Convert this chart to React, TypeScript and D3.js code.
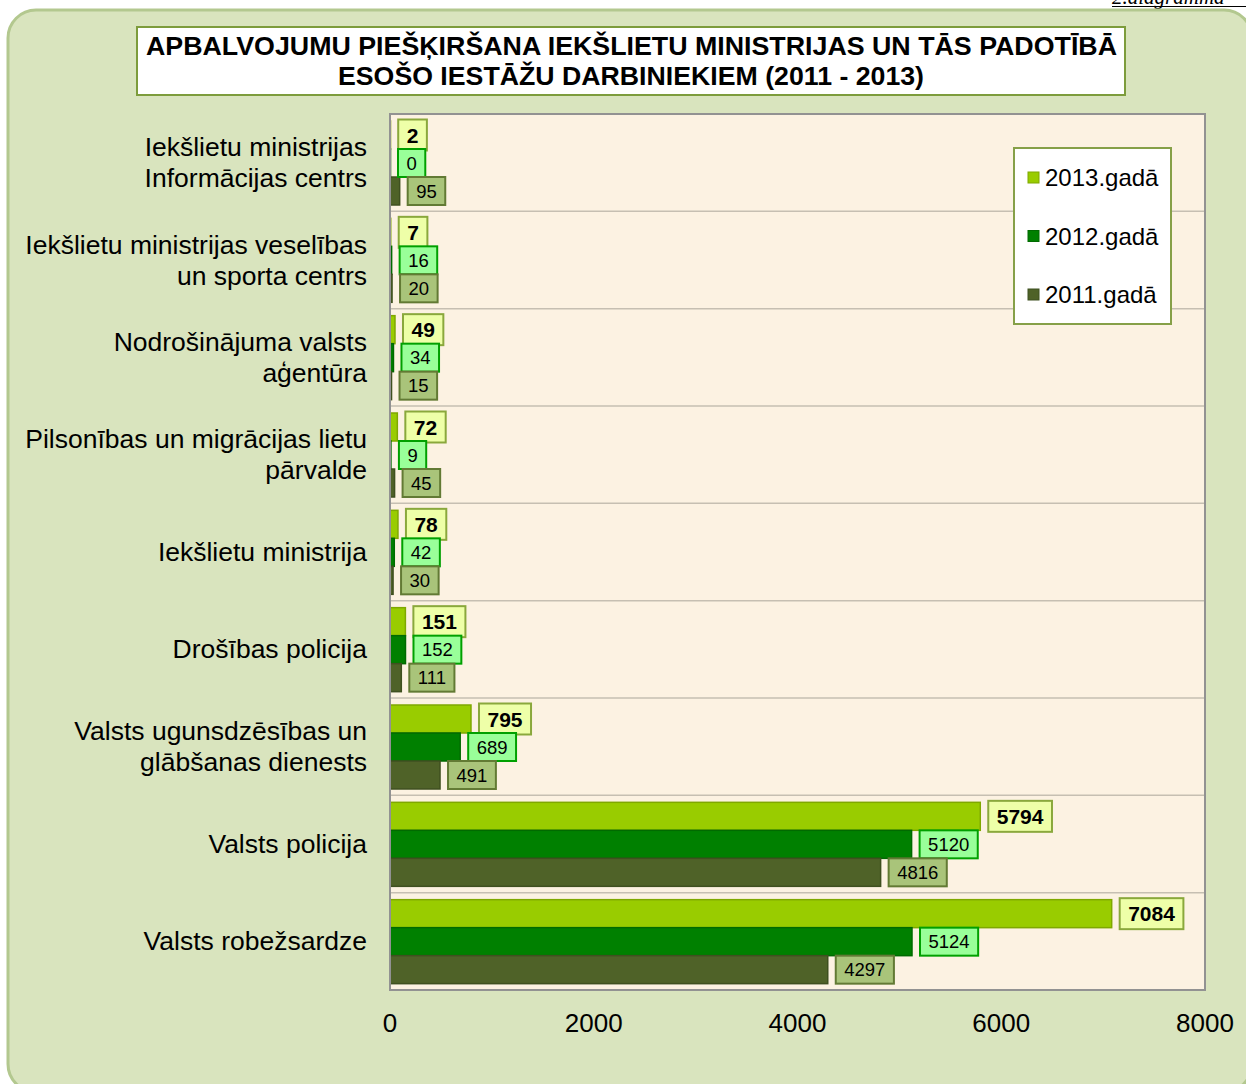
import * as d3 from 'd3';

const categories = [
  ['Iekšlietu ministrijas', 'Informācijas centrs'],
  ['Iekšlietu ministrijas veselības', 'un sporta centrs'],
  ['Nodrošinājuma valsts', 'aģentūra'],
  ['Pilsonības un migrācijas lietu', 'pārvalde'],
  ['Iekšlietu ministrija'],
  ['Drošības policija'],
  ['Valsts ugunsdzēsības un', 'glābšanas dienests'],
  ['Valsts policija'],
  ['Valsts robežsardze'],
];
const years = ['2013.gadā', '2012.gadā', '2011.gadā'];
const values2013 = [2, 7, 49, 72, 78, 151, 795, 5794, 7084];
const values2012 = [0, 16, 34, 9, 42, 152, 689, 5120, 5124];
const values2011 = [95, 20, 15, 45, 30, 111, 491, 4816, 4297];
const xTicks = [0, 2000, 4000, 6000, 8000];

const series = [values2013, values2012, values2011];
const barFill = ['#99cc00', '#008000', '#4f6228'];
const barStroke = ['#7fa800', '#006a00', '#3f5020'];
const boxFill = ['#eeffa8', '#99ff99', '#a9c47a'];
const boxStroke = ['#8aa83c', '#00a000', '#627a34'];

const FONT = '"Liberation Sans", Arial, sans-serif';

let ctx: CanvasRenderingContext2D | null = null;
function textWidth(t: string, font: string) {
  if (!ctx) ctx = document.createElement('canvas').getContext('2d');
  if (!ctx) return t.length * 10;
  ctx.font = font;
  return ctx.measureText(t).width;
}

export default function App() {
  const W = 1246, H = 1084;
  const left = 390, right = 1205, top = 114, bottom = 990;

  const x = d3.scaleLinear().domain([0, 8000]).range([left, right]);
  const y = d3.scaleBand<number>().domain(d3.range(categories.length)).range([top, bottom]);
  const inner = d3.scaleBand<number>().domain([0, 1, 2]).range([7, 91]);

  return (
    <svg width={W} height={H} style={{ position: 'absolute', left: 0, top: 0, display: 'block' }} fontFamily={FONT}>
      <text x={1112} y={4} fontFamily="'Liberation Serif', 'Times New Roman', serif" fontStyle="italic" fontSize={21}>2.diagramma</text>
      <line x1={1112} x2={1246} y1={6.5} y2={6.5} stroke="#000" strokeWidth={1.2} />

      <rect x={8} y={10} width={1244} height={1082} rx={28} fill="#d9e4be" stroke="#b3c88f" strokeWidth={3} />

      <rect x={137} y={27} width={988} height={68} fill="#fff" stroke="#7d9c3c" strokeWidth={2} />
      <text x={146} y={55} fontSize={26} fontWeight="bold" textLength={971} lengthAdjust="spacingAndGlyphs">APBALVOJUMU PIEŠĶIRŠANA IEKŠLIETU MINISTRIJAS UN TĀS PADOTĪBĀ</text>
      <text x={338} y={85} fontSize={26} fontWeight="bold" textLength={586} lengthAdjust="spacingAndGlyphs">ESOŠO IESTĀŽU DARBINIEKIEM (2011 - 2013)</text>

      <rect x={left} y={top} width={right - left} height={bottom - top} fill="#fcf2e2" />
      {d3.range(1, categories.length).map(i => (
        <line key={i} x1={left} x2={right} y1={y(i)!} y2={y(i)!} stroke="#c6bfb2" strokeWidth={1.5} />
      ))}

      {categories.map((lines, i) => {
        const cy = y(i)! + y.bandwidth() / 2;
        const off = (lines.length - 1) * 15.5;
        return (
          <text key={i} textAnchor="end" fontSize={26.5} fill="#000">
            {lines.map((l, j) => (
              <tspan key={j} x={367} y={cy - off + j * 31 + 9}>{l}</tspan>
            ))}
          </text>
        );
      })}

      {series.map((vals, s) =>
        vals.map((v, i) => {
          const by = y(i)! + inner(s)!;
          const w = x(v) - left;
          return (
            <rect key={`b${s}-${i}`} x={left} y={by} width={Math.max(w, 0.5)} height={inner.bandwidth()}
              fill={barFill[s]} stroke={barStroke[s]} strokeWidth={1.5} />
          );
        })
      )}

      {series.map((vals, s) =>
        vals.map((v, i) => {
          const cy = y(i)! + inner(s)! + inner.bandwidth() / 2;
          const bold = s === 0;
          const fs = bold ? 21 : 18.5;
          const font = `${bold ? 'bold ' : ''}${fs}px ${FONT}`;
          const tw = textWidth(String(v), font);
          const bw = tw + 17;
          const bh = bold ? 31 : 28;
          const bx = x(v) + 8;
          return (
            <g key={`l${s}-${i}`}>
              <rect x={bx} y={cy - bh / 2} width={bw} height={bh} fill={boxFill[s]} stroke={boxStroke[s]} strokeWidth={2} />
              <text x={bx + bw / 2} y={cy + fs * 0.36} textAnchor="middle" fontSize={fs} fontWeight={bold ? 'bold' : 'normal'}>{v}</text>
            </g>
          );
        })
      )}

      <rect x={left} y={top} width={right - left} height={bottom - top} fill="none" stroke="#929292" strokeWidth={2} />

      {xTicks.map(t => (
        <text key={t} x={x(t)} y={1032} textAnchor="middle" fontSize={26}>{t}</text>
      ))}

      <rect x={1014} y={148} width={157} height={176} fill="#fff" stroke="#86a048" strokeWidth={2} />
      {years.map((yr, k) => {
        const cy = 178 + k * 58.5;
        return (
          <g key={yr}>
            <rect x={1028} y={cy - 6} width={11} height={11} fill={barFill[k]} stroke={barStroke[k]} strokeWidth={1} />
            <text x={1045} y={cy + 8} fontSize={24}>{yr}</text>
          </g>
        );
      })}
    </svg>
  );
}
